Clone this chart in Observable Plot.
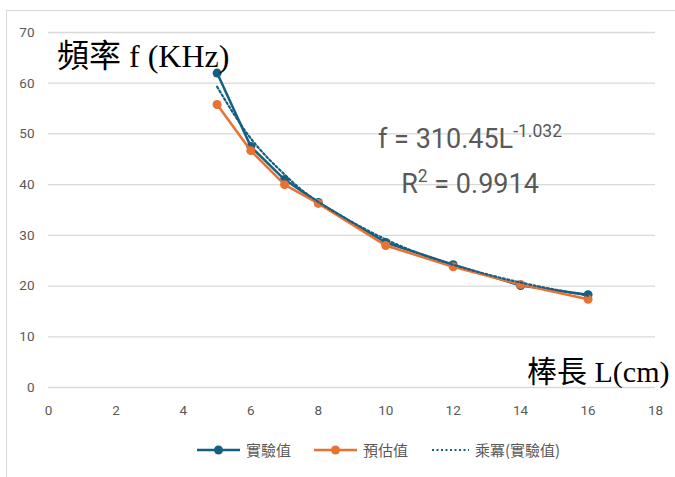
<!DOCTYPE html>
<html><head><meta charset="utf-8">
<script src="https://cdn.jsdelivr.net/npm/d3@7"></script>
<script src="https://cdn.jsdelivr.net/npm/@observablehq/plot@0.6"></script>
<style>
body{margin:0;background:#fff;overflow:hidden;}
#wrap{position:relative;width:675px;height:477px;overflow:hidden;}
#frame{position:absolute;left:6px;top:10px;width:720px;height:520px;border:1px solid #d9d9d9;box-sizing:border-box;}
#chart{position:absolute;left:0;top:0;}
.serif{position:absolute;font-family:"Liberation Serif","Times New Roman","Noto Sans CJK TC",serif;color:#000;white-space:nowrap;}
#eq{position:absolute;font-family:"Roboto",sans-serif;color:#595959;text-align:center;white-space:nowrap;font-size:27px;line-height:42px;}
#eq sup{font-size:17.5px;vertical-align:0;position:relative;top:-11px;}
#legend{position:absolute;left:197px;top:439px;display:flex;font-family:"Noto Sans CJK TC",sans-serif;font-size:15px;color:#595959;}
.item{display:flex;align-items:center;margin-right:23px;}
.item svg{margin-right:6px;}
</style></head>
<body><div id="wrap"><div id="frame"></div><div id="chart"></div>
<div class="serif" id="ytitle" style="left:57px;top:30px;font-size:32px;">頻率 f (KHz)</div>
<div class="serif" id="xtitle" style="left:527px;top:347px;font-size:30px;">棒長 L(cm)</div>
<div id="eq" style="left:360px;top:118px;width:220px;">f = 310.45L<sup>-1.032</sup><br>R<sup>2</sup> = 0.9914</div>
<div id="legend"></div>
</div>
<script>
const lengths = [5, 6, 7, 8, 10, 12, 14, 16];
const measured = [62, 47.5, 41, 36.5, 28.6, 24.2, 20.1, 18.3];
const predicted = [55.8, 46.7, 40, 36.3, 28.0, 23.8, 20.3, 17.4];
const trend = [59.3, 49.1, 42.0, 36.6, 29.2, 24.2, 20.7, 18.1];
const seriesNames = ["實驗值", "預估值", "乘冪(實驗值)"];
const colors = ["#156082", "#E97132", "#156082"];
const xTicks = [0, 2, 4, 6, 8, 10, 12, 14, 16, 18];
const yTicks = [0, 10, 20, 30, 40, 50, 60, 70];

const mk = arr => lengths.map((x, i) => ({x, y: arr[i]}));
const dMeas = mk(measured), dPred = mk(predicted), dTrend = mk(trend);

const plot = Plot.plot({
  width: 675, height: 430,
  marginLeft: 48, marginRight: 20, marginTop: 32, marginBottom: 43,
  x: {domain: [0, 18], ticks: xTicks, tickSize: 0, tickPadding: 18, label: null},
  y: {domain: [0, 70], ticks: yTicks, tickSize: 0, tickPadding: 14, label: null},
  style: {fontFamily: "Roboto, sans-serif", fontSize: "13.5px", color: "#595959", background: "transparent"},
  marks: [
    Plot.gridY(yTicks, {stroke: "#d9d9d9", strokeOpacity: 1, strokeWidth: 1.3}),
    Plot.axisX({ticks: xTicks, tickSize: 0, tickPadding: 18, fill: "#595959"}),
    Plot.axisY({ticks: yTicks, tickSize: 0, tickPadding: 14, fill: "#595959"}),
    Plot.line(dMeas, {x: "x", y: "y", stroke: colors[0], strokeWidth: 2.5}),
    Plot.dot(dMeas, {x: "x", y: "y", r: 4.5, fill: colors[0]}),
    Plot.line(dPred, {x: "x", y: "y", stroke: colors[1], strokeWidth: 2.5}),
    Plot.dot(dPred, {x: "x", y: "y", r: 4.5, fill: colors[1]}),
    Plot.line(dTrend, {x: "x", y: "y", stroke: colors[2], strokeWidth: 2.2, strokeDasharray: "2,2.5", curve: "natural"})
  ]
});
document.getElementById("chart").appendChild(plot);

const legend = document.getElementById("legend");
seriesNames.forEach((name, i) => {
  const item = document.createElement("div");
  item.className = "item";
  const marker = i < 2
    ? `<svg width="43" height="12"><line x1="0" y1="6" x2="43" y2="6" stroke="${colors[i]}" stroke-width="2.5"/><circle cx="21.5" cy="6" r="4.5" fill="${colors[i]}"/></svg>`
    : `<svg width="38" height="12"><line x1="1" y1="6" x2="38" y2="6" stroke="${colors[i]}" stroke-width="2" stroke-dasharray="2,2.5"/></svg>`;
  item.innerHTML = marker + `<span>${name}</span>`;
  legend.appendChild(item);
});
</script></body></html>
